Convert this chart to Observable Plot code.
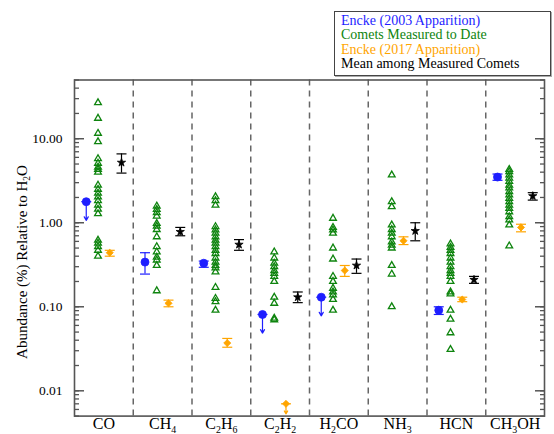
<!DOCTYPE html>
<html><head><meta charset="utf-8">
<script src="https://cdn.jsdelivr.net/npm/d3@7"></script>
<script src="https://cdn.jsdelivr.net/npm/@observablehq/plot@0.6"></script>
<style>
body{margin:0;background:#fff;}
#wrap{position:relative;width:554px;height:434px;overflow:hidden;font-family:"Liberation Serif","Times New Roman",serif;}
#legend{position:absolute;left:334px;top:10.5px;width:217px;height:65.5px;border:1px solid #444;box-shadow:1px 1px 0 #aaa;background:#fff;padding:2.5px 0 0 6px;box-sizing:border-box;font-family:"Liberation Serif","Times New Roman",serif;font-size:14px;line-height:14.3px;white-space:nowrap;}
</style></head><body>
<div id="wrap"><div id="legend"></div></div>
<script>
// ---- categories & axis labels ----
const categories = ["CO","CH4","C2H6","C2H2","H2CO","NH3","HCN","CH3OH"];
const yTicks = [0.01, 0.1, 1, 10];
const yTickLabels = ["0.01","0.10","1.00","10.00"];
const yLabel = "Abundance (%) Relative to H2O";
const seriesNames = ["Encke (2003 Apparition)","Comets Measured to Date","Encke (2017 Apparition)","Mean among Measured Comets"];

// ---- Comets measured to date (green triangles), per molecule ----
const cometsCO    = [26.8,17.5,11.6,9.2,5.8,5.1,4.6,4.3,4.0,2.8,2.5,2.25,2.03,1.83,1.62,1.45,1.28,0.62,0.57,0.52,0.47,0.40];
const cometsCH4   = [1.58,1.44,1.32,1.2,0.98,0.91,0.83,0.68,0.52,0.45,0.39,0.36,0.31,0.155];
const cometsC2H6  = [2.04,1.83,1.62,0.90,0.82,0.75,0.68,0.62,0.57,0.52,0.47,0.43,0.38,0.34,0.31,0.29,0.26,0.17,0.126,0.115,0.091];
const cometsC2H2  = [0.45,0.38,0.33,0.30,0.27,0.25,0.23,0.20,0.13,0.11,0.073,0.070];
const cometsH2CO  = [1.13,0.88,0.82,0.75,0.50,0.37,0.23,0.20,0.166,0.15,0.138,0.122,0.091];
const cometsNH3   = [3.7,1.78,1.55,0.94,0.83,0.75,0.68,0.59,0.54,0.50,0.31,0.245,0.10];
const cometsHCN   = [0.56,0.51,0.47,0.43,0.38,0.34,0.30,0.27,0.25,0.23,0.20,0.15,0.142,0.091,0.071,0.049,0.031];
const cometsCH3OH = [4.3,4.05,3.7,3.4,3.1,2.8,2.6,2.35,2.14,1.95,1.78,1.62,1.48,1.35,1.18,1.08,0.94,0.53];
const cometsMeasured = [cometsCO,cometsCH4,cometsC2H6,cometsC2H2,cometsH2CO,cometsNH3,cometsHCN,cometsCH3OH];

// ---- Encke 2003 apparition (blue) ----
const encke2003    = [1.78, 0.34, 0.33, 0.081, 0.13, null, 0.091, 3.5];
const encke2003Lo  = [null, 0.245, 0.295, null, null, null, 0.081, 3.2];
const encke2003Hi  = [null, 0.44, 0.35, null, null, null, 0.10, 3.8];
const encke2003Up  = [true, false, false, true, true, false, false, false];

// ---- Encke 2017 apparition (orange) ----
const encke2017    = [0.44, 0.11, 0.037, 0.0070, 0.27, 0.61, 0.122, 0.88];
const encke2017Lo  = [0.40, 0.10, 0.033, null, 0.23, 0.55, 0.115, 0.78];
const encke2017Hi  = [0.47, 0.12, 0.042, null, 0.31, 0.68, 0.13, 0.96];
const encke2017Up  = [false, false, false, true, false, false, false, false];

// ---- Mean among measured comets (black) ----
const meanVal = [5.2, 0.78, 0.55, 0.13, 0.31, 0.80, 0.21, 2.08];
const meanLo  = [3.9, 0.70, 0.47, 0.112, 0.25, 0.61, 0.19, 1.86];
const meanHi  = [6.6, 0.88, 0.63, 0.15, 0.37, 1.0, 0.23, 2.28];
const meanUp  = [false, false, false, false, false, false, false, false];

// ---- styling ----
const colors = ["#1e1eff", "#0e840e", "#ffa500", "#000000"];
const offsets = [-0.3, -0.1, 0.1, 0.3];
const axisGray = "#555";

function rows(vals, lo, hi, up, s) {
  return categories.map((c, i) => ({i, x: i + offsets[s], v: vals[i], lo: lo[i], hi: hi[i], up: up[i]}))
    .filter(d => d.v != null);
}
const blueRows = rows(encke2003, encke2003Lo, encke2003Hi, encke2003Up, 0);
const orangeRows = rows(encke2017, encke2017Lo, encke2017Hi, encke2017Up, 2);
const blackRows = rows(meanVal, meanLo, meanHi, meanUp, 3);
const greenRows = cometsMeasured.flatMap((arr, i) => arr.map(v => ({i, x: i + offsets[1], v})));

const capSymbol = {draw(ctx, size) { const w = Math.sqrt(size / Math.PI); ctx.moveTo(-w, 0); ctx.lineTo(w, 0); }};

function seriesMarks(data, color, sym, r, arrowFactor) {
  const e = data.filter(d => d.lo != null);
  const u = data.filter(d => d.up);
  return [
    Plot.ruleX(e, {x: "x", y1: "lo", y2: "hi", stroke: color, strokeWidth: 1.2}),
    Plot.dot(e, {x: "x", y: "lo", symbol: capSymbol, r: 5, stroke: color, strokeWidth: 1.2, fill: "none"}),
    Plot.dot(e, {x: "x", y: "hi", symbol: capSymbol, r: 5, stroke: color, strokeWidth: 1.2, fill: "none"}),
    Plot.arrow(u, {x1: "x", x2: "x", y1: "v", y2: d => d.v * arrowFactor, stroke: color, strokeWidth: 1.2, headLength: 5}),
    Plot.dot(u, {x: "x", y: "v", symbol: capSymbol, r: 5, stroke: color, strokeWidth: 1.2, fill: "none"}),
    Plot.dot(data, {x: "x", y: "v", symbol: sym, r, fill: color, stroke: color, strokeWidth: 0.8})
  ];
}

const yDomain = [0.005, 50];
const minorTicks = d3.scaleLog().domain(yDomain).ticks();

const chart = Plot.plot({
  width: 554, height: 434,
  marginLeft: 74, marginRight: 10, marginTop: 79.5, marginBottom: 18.4,
  style: {fontFamily: "Liberation Serif, Times New Roman, serif", fontSize: "14px", background: "transparent", color: "#000"},
  x: {type: "linear", domain: [-0.5, categories.length - 0.5]},
  y: {type: "log", domain: yDomain},
  marks: [
    Plot.ruleX(d3.range(1, categories.length), {x: d => d - 0.5, stroke: "#666", strokeWidth: 1.5, strokeDasharray: "6,5"}),
    Plot.axisX({ticks: d3.range(categories.length), tickFormat: i => categories[i], tickSize: 0, tickPadding: 2, fontSize: 16, label: null}),
    Plot.axisY({anchor: "left", ticks: yTicks, tickFormat: d => yTickLabels[yTicks.indexOf(d)], tickSize: 0, tickPadding: 12, fontSize: 13.5, label: null}),
    Plot.axisY({anchor: "left", ticks: minorTicks, tickSize: -5, tickFormat: () => "", stroke: axisGray, strokeWidth: 1.3, label: null}),
    Plot.axisY({anchor: "left", ticks: yTicks, tickSize: -10, tickFormat: () => "", stroke: axisGray, strokeWidth: 1.5, label: null}),
    Plot.axisY({anchor: "right", ticks: minorTicks, tickSize: -5, tickFormat: () => "", stroke: axisGray, strokeWidth: 1.3, label: null}),
    Plot.axisY({anchor: "right", ticks: yTicks, tickSize: -10, tickFormat: () => "", stroke: axisGray, strokeWidth: 1.5, label: null}),
    Plot.text([yLabel], {frameAnchor: "left", dx: -52, dy: 14, rotate: -90, fontSize: 15, textAnchor: "middle"}),
    Plot.dot(greenRows, {x: "x", y: "v", symbol: "triangle", r: 2.5, stroke: colors[1], strokeWidth: 1.3, fill: "none"}),
    ...seriesMarks(blueRows, colors[0], "circle", 4, 0.6),
    ...seriesMarks(orangeRows, colors[2], "diamond2", 3.2, 0.76),
    ...seriesMarks(blackRows, colors[3], "star", 2.6, 0.6),
    Plot.frame({stroke: axisGray, strokeWidth: 1.6})
  ]
});

const wrap = document.getElementById("wrap");
wrap.insertBefore(chart, wrap.firstChild);

// chemical formula subscripts
const ns = "http://www.w3.org/2000/svg";
chart.querySelectorAll("text").forEach(el => {
  const t = el.textContent;
  if (!/[A-Za-z]\d/.test(t)) return;
  const fs = parseFloat(getComputedStyle(el).fontSize) || 14;
  const sh = 0.2 * fs;
  while (el.firstChild) el.removeChild(el.firstChild);
  const parts = t.split(/(\d+)/);
  let inSub = false;
  parts.forEach((p, k) => {
    if (!p) return;
    const isSub = /^\d+$/.test(p) && k > 0 && /[A-Za-z]$/.test(parts[k - 1]);
    const ts = document.createElementNS(ns, "tspan");
    ts.textContent = p;
    if (isSub) { ts.setAttribute("font-size", (0.62 * fs) + "px"); ts.setAttribute("dy", sh); inSub = true; }
    else if (inSub) { ts.setAttribute("dy", -sh); inSub = false; }
    el.appendChild(ts);
  });
});

// legend
const legend = document.getElementById("legend");
seriesNames.forEach((name, k) => {
  const div = document.createElement("div");
  div.textContent = name;
  div.style.color = colors[k];
  legend.appendChild(div);
});
</script>
</body></html>
